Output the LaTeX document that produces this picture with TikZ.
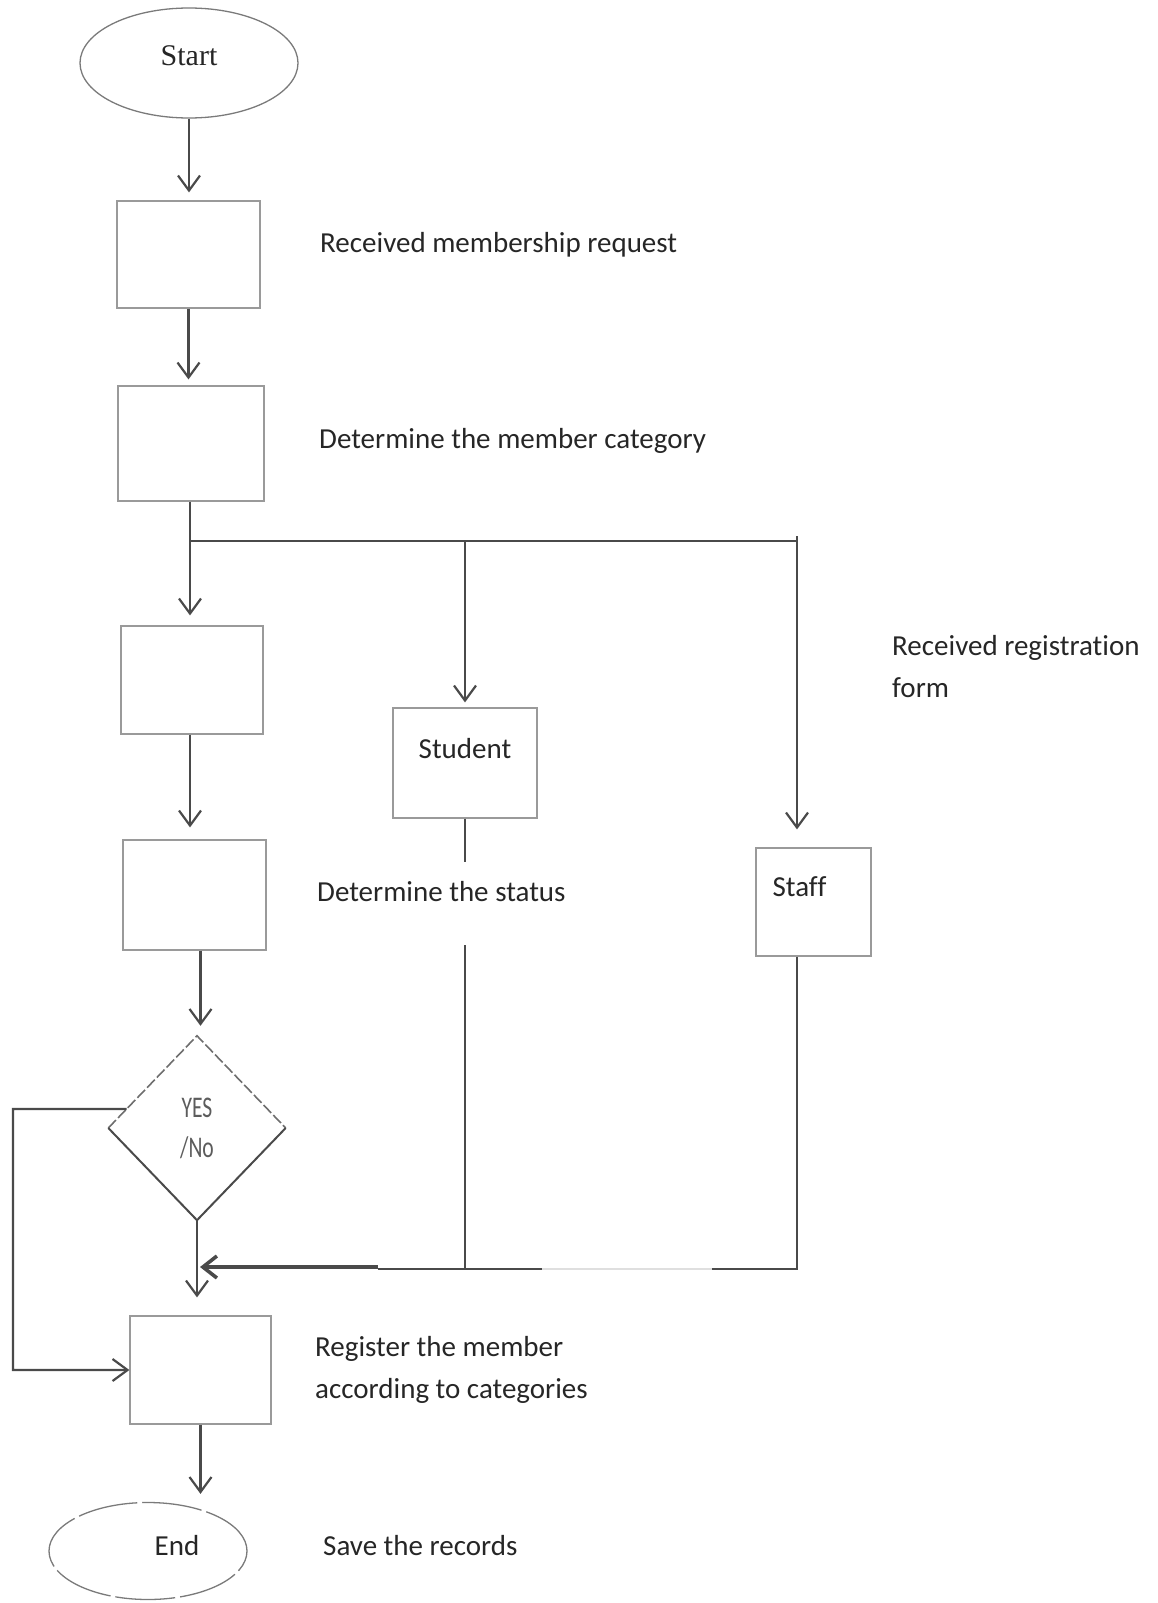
\documentclass[tikz,border=0pt]{standalone}
\usepackage{fontspec}
\setmainfont{Carlito}[Ligatures=CommonOff]
\newfontfamily\startfont{Liberation Serif}
\usetikzlibrary{arrows.meta,shapes.geometric,calc}
\definecolor{ink}{HTML}{4A4A4A}
\definecolor{txt}{HTML}{262626}
\definecolor{rim}{HTML}{9A9A9A}
\definecolor{oval}{HTML}{7A7A7A}
\newcommand{\narrow}[1]{\scalebox{0.72}[1]{#1}}
\begin{document}
\begin{tikzpicture}[x=1pt,y=-1pt,
  conn/.style={draw=ink, line width=2.2pt},
  arr/.style={conn, -{Straight Barb[length=15pt,width=22pt]}},
  stepbox/.style={draw=rim, line width=1.2pt, rectangle, inner sep=0pt},
  termin/.style={draw=oval, line width=1.3pt, ellipse, inner sep=0pt},
  lbl/.style={text=txt, font=\fontsize{29}{42}\selectfont, anchor=west, align=left, inner sep=0pt},
  boxtxt/.style={text=txt, font=\fontsize{29}{35}\selectfont},
]
\useasboundingbox (0,0) rectangle (1157,1603);

% terminals
\node[termin, minimum width=218pt, minimum height=110pt,
      label={[text=txt, font=\startfont\fontsize{30}{36}\selectfont, yshift=7pt]center:Start}]
      (start) at (189,63) {};
\node[termin, minimum width=198pt, minimum height=97pt, dash pattern=on 60pt off 5pt,
      label={[boxtxt, xshift=29pt, yshift=5pt]center:End}]
      (end) at (148,1551) {};

% process boxes
\node[stepbox, minimum width=143pt, minimum height=107pt] (b1) at (188.5,254.5) {};
\node[stepbox, minimum width=146pt, minimum height=115pt] (b2) at (191,443.5) {};
\node[stepbox, minimum width=142pt, minimum height=108pt] (b3) at (192,680) {};
\node[stepbox, minimum width=143pt, minimum height=110pt] (b4) at (194.5,895) {};
\node[stepbox, minimum width=144pt, minimum height=110pt,
      label={[boxtxt, yshift=14pt]center:Student}] (stu) at (465,763) {};
\node[stepbox, minimum width=115pt, minimum height=108pt,
      label={[boxtxt, xshift=-14pt, yshift=15pt]center:Staff}] (staff) at (813.5,902) {};
\node[stepbox, minimum width=141pt, minimum height=108pt] (b5) at (200.5,1370) {};

% decision
\node[diamond, minimum width=177pt, minimum height=184pt, inner sep=0pt,
      text=ink!90, font=\fontsize{30}{40}\selectfont, align=center, xshift=4pt, yshift=-3pt]
      (dia) at (193,1125) {\narrow{YES}\\\narrow{/No}};
\draw[draw=ink!80, line width=1.6pt, dash pattern=on 11pt off 3pt]
      (dia.west) -- (dia.north) -- (dia.east);
\draw[draw=ink, line width=2pt] (dia.west) -- (dia.south) -- (dia.east);

% junction points
\coordinate (j0) at (190,541);
\coordinate (jM) at (465,541);
\coordinate (jR) at (797,536);
\coordinate (gapTop) at (465,862);
\coordinate (gapBot) at (465,945);
\coordinate (busS) at (465,1269);
\coordinate (busL) at (378,1269);
\coordinate (busR) at (542,1269);
\coordinate (busR2) at (712,1269);
\coordinate (busEnd) at (797,1269);
\coordinate (loopTop) at (13,1109);
\coordinate (loopOut) at ($(dia.west)!0.206!(dia.north)$);

% main flow
\draw[arr, shorten >=8pt] (start.south) -- (start.south |- b1.north);
\draw[arr, shorten >=6pt] (b1.south) -- (b1.south |- b2.north);
\draw[conn] (b2.south -| j0) -- (j0);
\draw[conn] (j0) -- (jR |- j0);
\draw[arr, shorten >=10pt] (j0) -- (j0 |- b3.north);
\draw[arr, shorten >=5pt] (jM) -- (stu.north);
\draw[arr, shorten >=18pt] (jR) -- (jR |- staff.north);
\draw[arr, shorten >=12pt] (b3.south -| j0) -- (j0 |- b4.north);
\draw[arr, shorten >=10pt] ([xshift=6pt]b4.south) -- ([xshift=6pt]b4.south |- dia.north);
\draw[arr, shorten >=18pt] (dia.south) -- (dia.south |- b5.north);
\draw[arr, shorten >=8pt] (b5.south) -- (b5.south |- end.north);

% branch returns
\draw[conn] (stu.south) -- (gapTop);
\draw[conn] (gapBot) -- (busS);
\draw[conn] (busL) -- (busR);
\draw[draw=gray!25, line width=1.2pt] (busR) -- (busR2);
\draw[conn] (jR |- staff.south) -- (busEnd) -- (busR2);
\draw[draw=ink, line width=3.6pt, -{Straight Barb[length=14pt,width=22pt]}, shorten >=3pt]
      ([yshift=2pt]busL) -- ([yshift=2pt]busL -| dia.south);

% loop back from the decision
\draw[arr] (loopOut) -- (loopTop) |- (b5.west);

% captions
\node[lbl] (t1) at (320,245) {Received membership request};
\node[lbl] (t2) at (319,441) {Determine the member category};
\node[lbl] (t3) at (892,667) {Received registration\\form};
\node[lbl] (t4) at (317,892) {Determine the status};
\node[lbl] (t5) at (315,1370) {Register the member\\according to categories};
\node[lbl] (t6) at (323,1546) {Save the records};
\end{tikzpicture}
\end{document}
